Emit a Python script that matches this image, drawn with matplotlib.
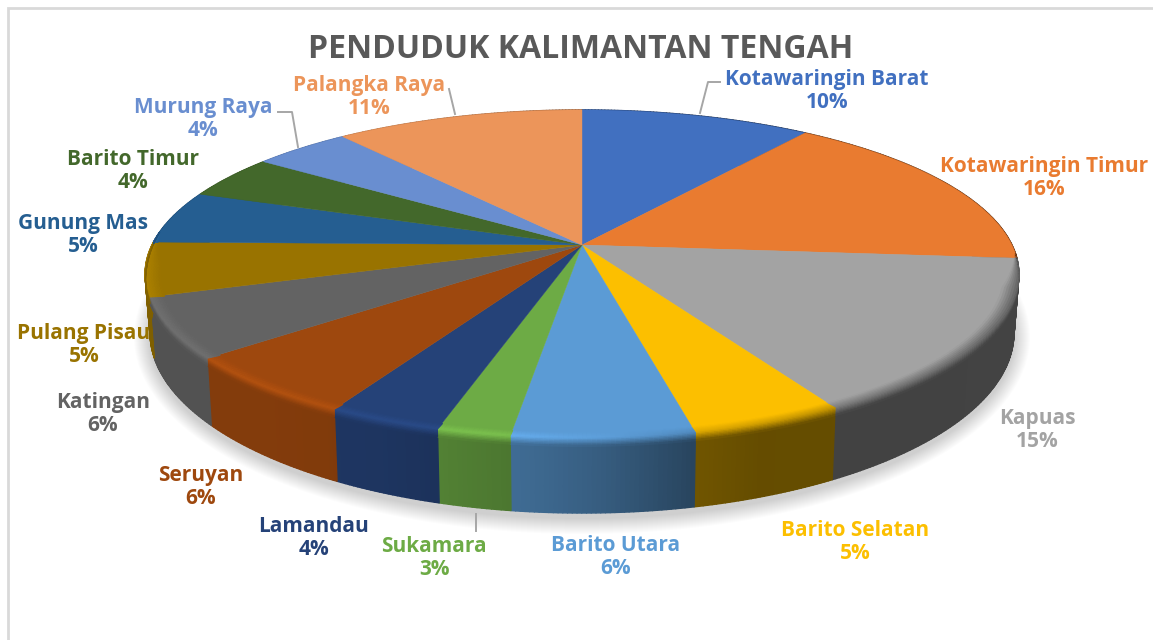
import numpy as np
import matplotlib
matplotlib.use('Agg')
import matplotlib.pyplot as plt
from matplotlib.collections import PolyCollection
from matplotlib.colors import to_rgb

names = ['Kotawaringin Barat', 'Kotawaringin Timur', 'Kapuas', 'Barito Selatan', 'Barito Utara',
         'Sukamara', 'Lamandau', 'Seruyan', 'Katingan', 'Pulang Pisau', 'Gunung Mas',
         'Barito Timur', 'Murung Raya', 'Palangka Raya']
# slice sizes, the printed percentages are kept apart
values = [10.1, 16.2, 15.4, 4.8, 5.7, 2.3, 3.6, 6.0, 5.9, 5.3, 5.2, 4.3, 4.3, 10.9]
percents = [10, 16, 15, 5, 6, 3, 4, 6, 6, 5, 5, 4, 4, 11]
colors = ['#4170c0', '#e97b30', '#a3a3a3', '#fcbf00', '#5b9bd5', '#6dab45', '#254278',
          '#9e480e', '#636363', '#997300', '#255e91', '#43682b', '#698ed0', '#ec955a']

# label centres, in picture pixels
label_x = [827, 1044, 1037, 855, 616, 434, 314, 201, 103, 84, 83, 133, 203, 369]
label_y = [91, 178, 430, 542, 557, 558, 538, 487, 414, 345, 235, 171, 119, 97]

leaders = [([700, 708, 720], [113, 82, 82]),
           ([455, 449], [114, 89]),
           ([298, 292, 278], [147, 112, 112]),
           ([476, 476], [514, 531])]

# how the top disc sits in the picture (a tilted circle, so the apex is off centre)
cx, apex_y = 582, 245
a0, s0, k = 430, 159, 0.177
ecy, ea = 275, 437
bcy, ba, bb = 334, 432, 181
eb = 165

# shading along the front, by x position
shade_x = [150, 260, 380, 480, 540, 600, 690, 760, 1020]
wall_f = [0.83, 0.83, 0.80, 0.72, 0.67, 0.60, 0.45, 0.40, 0.41]
rim_x = [150, 500, 600, 700, 900, 1020]
rim_f = [1.13, 1.13, 1.03, 0.88, 0.72, 0.62]


def rim(deg):
    t = np.radians(deg)
    den = 1 + k * np.cos(t)
    return cx + a0 * np.sin(t) / den, apex_y - s0 * np.cos(t) / den


def lower(x, y):
    return cx + (x - cx) * ba / ea, bcy + (y - ecy) * bb / eb


fig = plt.figure(figsize=(11.53, 6.4), dpi=100)
ax = fig.add_axes([0, 0, 1, 1])
ax.set_xlim(0, 1153)
ax.set_ylim(640, 0)
ax.axis('off')

plt.rcParams['font.family'] = ['Open Sans', 'DejaVu Sans']

# frame
ax.plot([1153, 8, 8], [8, 8, 640], color='#d9d9d9', lw=2, zorder=1, solid_joinstyle='miter')

# soft shadow under the pie
ring = np.linspace(0, 2 * np.pi, 200)
for i in range(16, 0, -1):
    ax.fill(cx + (ba + i) * np.sin(ring), bcy + 3 + (bb + i) * np.cos(ring),
            color='#000000', alpha=0.012, lw=0, zorder=2)

edges = np.cumsum([0] + values) / sum(values) * 360

wall_polys, wall_cols = [], []
band_polys, band_cols = [], []
levels = np.linspace(-1, 1, 13)

for i in range(len(values)):
    th = np.linspace(edges[i], edges[i + 1], max(int(edges[i + 1] - edges[i]) * 2, 4))
    top = np.array(to_rgb(colors[i]))
    px, py = rim(th)
    # top face
    ax.fill(np.r_[cx, px], np.r_[apex_y, py], color=colors[i], lw=0.3, zorder=5)
    # side wall, cut in thin strips so the shade can change along it
    for j in range(len(th) - 1):
        x0, y0, x1, y1 = px[j], py[j], px[j + 1], py[j + 1]
        lx0, ly0 = lower(x0, y0)
        lx1, ly1 = lower(x1, y1)
        mid = (x0 + x1) / 2
        f = np.interp(mid, shade_x, wall_f)
        wall_polys.append([(x0, y0), (x1, y1), (lx1, ly1), (lx0, ly0)])
        wall_cols.append(tuple(top * f))
        # bevel along the front rim
        deg = (th[j] + th[j + 1]) / 2
        fade = np.clip(min(deg - 93, 275 - deg) / 12, 0, 1)
        if fade <= 0:
            continue
        rc = np.clip(top * np.interp(mid, rim_x, rim_f), 0, 1)
        wc = top * f

        def level_pt(x, y, u):
            if u < 0:
                return x + (cx - x) * (-u) * 0.035 * fade, y + (ecy - y) * (-u) * 0.035 * fade
            lx, ly = lower(x, y)
            return x + (lx - x) * u * 0.11 * fade, y + (ly - y) * u * 0.11 * fade

        for n in range(len(levels) - 1):
            u0, u1 = levels[n], levels[n + 1]
            um = (u0 + u1) / 2
            col = top + (rc - top) * (1 + um) if um < 0 else rc + (wc - rc) * um
            band_polys.append([level_pt(x0, y0, u0), level_pt(x1, y1, u0),
                               level_pt(x1, y1, u1), level_pt(x0, y0, u1)])
            band_cols.append(tuple(np.clip(col, 0, 1)))

ax.add_collection(PolyCollection(wall_polys, facecolors=wall_cols, edgecolors='face', linewidths=1.0, zorder=3))
ax.add_collection(PolyCollection(band_polys, facecolors=band_cols, edgecolors='face', linewidths=0.7, zorder=6))

for lx, ly in leaders:
    ax.plot(lx, ly, color='#a6a6a6', lw=1.4, zorder=7)

for i in range(len(names)):
    ax.text(label_x[i], label_y[i], '%s\n%d%%' % (names[i], percents[i]),
            ha='center', va='center', color=colors[i], fontsize=15, fontweight='bold',
            linespacing=1.18, zorder=8)

ax.text(581, 50, 'PENDUDUK KALIMANTAN TENGAH', ha='center', va='center', color='#595959',
        fontsize=23, fontweight='bold', zorder=8)

fig.savefig('out.png', dpi=100)
